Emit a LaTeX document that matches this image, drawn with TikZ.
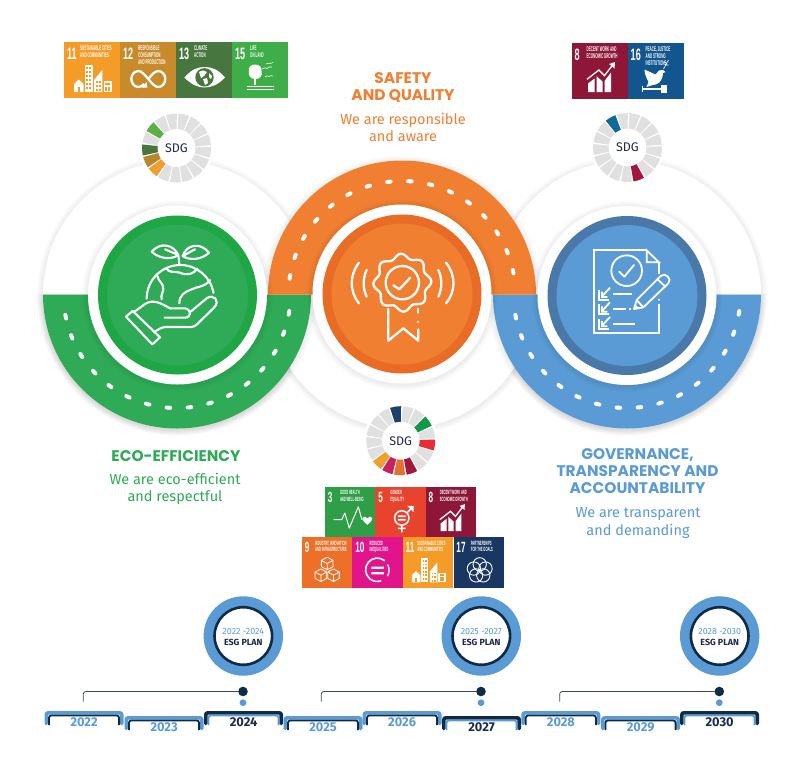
\documentclass[tikz,border=0pt]{standalone}
\usepackage{fontspec}
\setmainfont{Fira Sans}
\newfontfamily\headf{Poppins}
\newfontfamily\tilef[FakeStretch=0.55]{Liberation Sans}
\newfontfamily\tileg[FakeStretch=0.44]{Liberation Sans}
\definecolor{gband}{HTML}{2FAB57}\definecolor{gring}{HTML}{1FA645}
\definecolor{oband}{HTML}{F07F32}\definecolor{oring}{HTML}{E96C26}
\definecolor{bband}{HTML}{5A9BD5}\definecolor{bring}{HTML}{4A78A8}
\definecolor{navy}{HTML}{0F2C46}\definecolor{ink}{HTML}{1E2A4A}
\definecolor{segray}{HTML}{E0E0E0}
\definecolor{sA}{HTML}{F59B27}\definecolor{sB}{HTML}{C98A2B}\definecolor{sC}{HTML}{47773F}
\definecolor{sD}{HTML}{3FAE49}\definecolor{sE}{HTML}{8E1738}\definecolor{sF}{HTML}{13568F}
\definecolor{sG}{HTML}{2E9E47}\definecolor{sH}{HTML}{E8432D}\definecolor{sI}{HTML}{EE7028}
\definecolor{sJ}{HTML}{E1148B}\definecolor{sK}{HTML}{1A3764}
\definecolor{rA}{HTML}{5BB046}\definecolor{rB}{HTML}{48773E}\definecolor{rC}{HTML}{B8862F}
\definecolor{rD}{HTML}{F09F2E}\definecolor{rE}{HTML}{1D3F6B}\definecolor{rF}{HTML}{109A45}
\definecolor{rG}{HTML}{E92C34}\definecolor{rH}{HTML}{A3173F}\definecolor{rI}{HTML}{E96F2E}
\definecolor{rJ}{HTML}{C9215F}\definecolor{rK}{HTML}{0F6A9C}
\tikzset{
 tilebox/.style={anchor=north west,inner sep=0pt,outer sep=0pt},
 tilenum/.style={anchor=west,inner sep=0pt,text=white,font=\tilef\bfseries\fontsize{16.5}{16.5}\selectfont},
 tiletxt/.style={anchor=north west,inner sep=0pt,text=white,align=left,font=\tileg\bfseries\fontsize{6.8}{6.8}\selectfont},
 ic/.style={draw=white,line width=1.1pt,line cap=round,line join=round},
 bigic/.style={draw=white,line width=2.1pt,line cap=round,line join=round},
 roaddash/.style={draw=white,line width=4pt,line cap=round},
 headtxt/.style={align=center,inner sep=0pt,font=\headf\bfseries\fontsize{15.4}{17}\selectfont},
 subtxt/.style={align=center,inner sep=0pt,font=\fontsize{14.5}{17.5}\selectfont},
 disc/.style={circle,inner sep=0pt,outer sep=0pt,minimum size=#1},
 yeartxt/.style={inner sep=0pt,font=\bfseries\fontsize{12.8}{12.8}\selectfont},
 dotnode/.style={circle,inner sep=0pt,outer sep=0pt,minimum size=#1},
 bracket/.style={draw=navy!85!white,line width=0.8pt,rounded corners=2.5pt},
}
% soft shadow around a circle
\newcommand{\softshadow}[3]{\foreach \i in {1,...,6}{\fill[black,opacity=0.011] (#1,#2+1) circle[radius=#3+\i];}}
% SDG ring
\newcommand{\seg}[2]{%
 \pgfmathsetmacro\tA{-77.5+(#1-1)*21.176-9.2}\pgfmathsetmacro\tB{\tA+18.4}%
 \fill[#2] (\tA:34.5) arc[start angle=\tA,end angle=\tB,radius=34.5] -- (\tB:19) arc[start angle=\tB,end angle=\tA,radius=19] -- cycle;}
\newcommand{\sdgring}[4]{%
 \fill[white] (#2,#3) circle[radius=37];
 \begin{scope}[shift={(#2,#3)}]
 \foreach \n in {1,...,17}{\seg{\n}{segray}}
 \foreach \n/\c in {#4}{\seg{\n}{\c}}
 \end{scope}
 \node[inner sep=0pt,text=ink,font=\fontsize{12.5}{12.5}\selectfont] (#1) at (#2,#3) {SDG};}
% tile: name,x,y,scale,colour,number,title x,title,icon
\newcommand{\sdgtile}[9]{%
 \node[tilebox,fill=#5,minimum width={56pt*#4},minimum height={56pt*#4}] (#1) at (#2,#3) {};
 \begin{scope}[shift={(#2,#3)},scale=#4]
 \node[tilenum,scale=#4] (#1n) at (3,11.5) {#6};
 \node[tiletxt,scale=#4] (#1t) at (#7,3.8) {#8};
 #9
 \end{scope}}
% icons in 56-unit tile coordinates
\newcommand{\icCity}[1]{%
 \fill[white] (10,50)--(10,42)--(14.7,37.5)--(19.5,42)--(19.5,50)--cycle;
 \fill[#1] (13.5,50) rectangle (16,45);
 \fill[white] (20.5,50) rectangle (28.5,23);
 \foreach \yy in {25,29,...,45}{\fill[#1] (22,\yy) rectangle (24,\yy+2);\fill[#1] (25,\yy) rectangle (27,\yy+2);}
 \fill[white] (30,50)--(30,38)--(38.3,28)--(38.3,50)--cycle;
 \foreach \yy in {39,43,47}{\fill[#1] (32,\yy) rectangle (34,\yy+2);\fill[#1] (35,\yy) rectangle (37,\yy+2);}
 \fill[white] (39.5,50) rectangle (47.7,39);
 \fill[#1] (41,41) rectangle (46.2,43);\fill[#1] (41,44.5) rectangle (43.2,48.5);\fill[#1] (44,44.5) rectangle (46.2,48.5);}
\newcommand{\icInf}{%
 \begin{scope}[shift={(28.3,37)}]
 \draw[white,line width=2.3pt] (0,0) .. controls (4,-5) and (7,-8) .. (10,-8) .. controls (14,-8) and (17,-4) .. (17,0) .. controls (17,4) and (14,8) .. (10,8) .. controls (7,8) and (4,5) .. (0,0) .. controls (-4,-5) and (-7,-8) .. (-10,-8) .. controls (-14,-8) and (-17,-4) .. (-17,0) .. controls (-17,4) and (-14,8) .. (-10,8) .. controls (-8,8) and (-6,7) .. (-4,5);
 \fill[white] (-1,8.5)--(-6.5,8.5)--(-1.5,3)--cycle;
 \end{scope}}
\newcommand{\icEye}{%
 \fill[white] (8.3,35.5) .. controls (16,27) and (22,25) .. (28.5,25) .. controls (35,25) and (42,27) .. (49,35.5) .. controls (42,43) and (35,45.5) .. (28.5,45.5) .. controls (22,45.5) and (16,43) .. (8.3,35.5) -- cycle;
 \fill[sC] (28.5,35.3) circle[radius=9.2];
 \fill[white] (23,30) .. controls (26,28) and (29,28) .. (31,30) -- (28,34) -- (25,36) -- cycle;
 \fill[white] (27,37) -- (31,36) -- (32,41) -- (29,43) -- cycle;
 \fill[white] (33,31) -- (36,34) -- (35,37) -- (33,35) -- cycle;}
\newcommand{\icTree}{%
 \fill[white] (23,22.5) .. controls (28,22.5) and (30,26) .. (29.5,29) .. controls (31,33) and (28,37) .. (24,37) .. controls (19,37.5) and (15.5,33) .. (17,29) .. controls (16,25) and (19,22.5) .. (23,22.5) -- cycle;
 \fill[white] (22.3,36) rectangle (23.8,43);
 \draw[white,line width=1pt] (14.7,44.3)--(42,44.3) (14.7,47.3)--(42,47.3);
 \draw[white,line width=.6pt] (30,27) .. controls (32,25.5) and (34,25.5) .. (35,26.5) .. controls (36,25) and (38,24.5) .. (40,25);
 \draw[white,line width=.6pt] (33,35) .. controls (34,33.5) and (36,33.5) .. (37,34.5) .. controls (38,33.5) and (40,33.5) .. (41,34);
 \draw[white,line width=.6pt] (34,22) .. controls (35,21) and (37,21) .. (38,21.5) .. controls (39,20.5) and (40,20.5) .. (41,20.5);}
\newcommand{\icGrowth}{%
 \fill[white] (16.5,49)--(16.5,40.5)--(23,35.5)--(23,49)--cycle;
 \fill[white] (25,49)--(25,33)--(31,38.5)--(31,49)--cycle;
 \fill[white] (33,49)--(33,38)--(39.5,29.5)--(39.5,49)--cycle;
 \draw[white,line width=1.3pt,line join=miter] (15.5,36.3)--(27.4,27)--(33,32.6)--(40.7,22.5);
 \fill[white] (43.5,19)--(43,25.5)--(37.5,21)--cycle;}
\newcommand{\icDove}{%
 \fill[white] (17,26.5) -- (28,31.5) -- (31.5,27.5) -- (35.5,27) -- (38,29) -- (35.5,30) .. controls (35,39) and (30,42) .. (25,42) -- (19,44) -- (21,39) .. controls (19,35) and (17,31) .. (17,26.5) -- cycle;
 \draw[white,line width=.6pt] (36,26) -- (41,17) (38,22)--(41,22) (39,20)--(36.5,19);
 \draw[white,line width=1.3pt] (14.5,46)--(33,46);
 \draw[white,line width=1pt] (14.5,43)--(14.5,49);
 \fill[white] (33,42) rectangle (39,50);}
\newcommand{\icHealth}{%
 \draw[white,line width=1pt,line join=round,line cap=round] (10,36.3)--(18.5,36.3)--(22,29)--(27,45.6)--(37,22)--(41,36.3);
 \fill[white] (47,42) .. controls (43,38.5) and (41,36.5) .. (41.5,34.5) .. controls (42.5,32) and (46,32.5) .. (47,35) .. controls (48,32.5) and (51.5,32) .. (52.5,34.5) .. controls (53,36.5) and (51,38.5) .. (47,42) -- cycle;}
\newcommand{\icGender}{%
 \draw[white,line width=1.5pt] (29.3,34.4) circle[radius=8];
 \draw[white,line width=1.5pt] (35,28.8)--(41.5,22.2) (29.3,42.4)--(29.3,50.5) (25,46)--(33.5,46);
 \fill[white] (35.5,21)--(42.5,21)--(42.5,28)--cycle;
 \fill[white] (25,31.5) rectangle (33.6,33.4) (25,35.5) rectangle (33.6,37.4);}
\newcommand{\isocube}[2]{%
 \begin{scope}[shift={(#1,#2)}]
 \draw[ic,line width=.8pt] (0,-7)--(6.5,-3.5)--(6.5,3.5)--(0,7)--(-6.5,3.5)--(-6.5,-3.5)--cycle (-6.5,-3.5)--(0,0)--(6.5,-3.5) (0,0)--(0,7);
 \end{scope}}
\newcommand{\icCubes}{\isocube{28}{29}\isocube{21}{42}\isocube{35}{42}}
\newcommand{\icEq}{%
 \draw[white,line width=1.6pt] (36,26) arc[start angle=-50,end angle=-290,radius=13];
 \draw[white,line width=1.3pt] (39,30) arc[start angle=-30,end angle=30,radius=13];
 \fill[white] (21,32.5) rectangle (35,35) (21,38.5) rectangle (35,41);}
\newcommand{\icRings}{%
 \foreach \an in {-90,-18,54,126,198}{\draw[white,line width=.9pt] ([shift={(29,36.7)}]\an:6.8) circle[radius=7.4];}}
% big-disc
\newcommand{\bigdisc}[2]{\softshadow{#1}{#2}{134}\fill[white] (#1,#2) circle[radius=134];}
% year tab: name,x0,y0,outer,inner,label,labelcolor
\newcommand{\yeartab}[7]{%
 \pgfmathsetmacro\xa{#2}\pgfmathsetmacro\xb{#2+79}\pgfmathsetmacro\ya{#3}\pgfmathsetmacro\yb{#3+14}%
 \draw[#4,line width=3.6pt,line cap=round,rounded corners=2pt] (\xa+1.8,\yb-1.5)--(\xa+1.8,\ya+1.8)--(\xb-1.8,\ya+1.8)--(\xb-1.8,\yb-1.5);
 \draw[#5,line width=1.8pt,rounded corners=2.5pt] (\xa+4.4,\yb)--(\xa+4.4,\ya+4.4)--(\xb-4.4,\ya+4.4)--(\xb-4.4,\yb);
 \node[yeartxt,text=#7] (#1) at (\xa+39.6,\ya+11) {#6};}
% plan circle: name,x,label
\newcommand{\plan}[3]{%
 \node[disc=79.4pt,fill=bband] (#1o) at (#2,636) {};
 \node[disc=57.6pt,fill=white,draw=navy,line width=2.6pt] (#1w) at (#2,636) {};
 \node[inner sep=0pt,align=center,font=\fontsize{8.9}{10.6}\selectfont] (#1) at (#2,637.2) {\textcolor{bband}{#3}\\\textcolor{ink}{\bfseries ESG PLAN}};}
\begin{document}
\begin{tikzpicture}[x=1pt,y=1pt,yscale=-1]
\useasboundingbox (0,0) rectangle (804,780);
\fill[white] (0,0) rectangle (804,780);
% big white discs
\bigdisc{177}{294.5}
\bigdisc{627}{294.5}
\bigdisc{402}{294.5}
% left and right lower bands
\begin{scope}\clip (30,294.5) rectangle (775,445);
 \softshadow{177}{294.5}{134}\softshadow{627}{294.5}{134}
\end{scope}
\fill[gband] (43,294.5) arc[start angle=180,end angle=0,radius=134] -- cycle;
\fill[bband] (493,294.5) arc[start angle=180,end angle=0,radius=134] -- cycle;
\fill[oband] (268,294.5) arc[start angle=180,end angle=360,radius=134] -- cycle;
% road dashes
\foreach \k in {0,...,15}{
 \pgfmathsetmacro\aa{9.3+10.63*\k}
 \pgfmathsetmacro\ab{\aa-0.9}\pgfmathsetmacro\ac{\aa+0.9}
 \begin{scope}[shift={(177,294.5)}]\draw[roaddash] (\ab:113.5) arc[start angle=\ab,end angle=\ac,radius=113.5];\end{scope}
 \begin{scope}[shift={(627,294.5)}]\draw[roaddash] (\ab:113.5) arc[start angle=\ab,end angle=\ac,radius=113.5];\end{scope}
 \pgfmathsetmacro\ad{-11.6-10.63*\k-0.9}\pgfmathsetmacro\ae{\ad+1.8}
 \begin{scope}[shift={(402,294.5)}]\draw[roaddash] (\ad:113.5) arc[start angle=\ad,end angle=\ae,radius=113.5];\end{scope}
}
% inner discs
\softshadow{177.5}{295}{89.5}\softshadow{627}{295.5}{89.5}\softshadow{402}{294}{89.5}
\node[disc=179pt,fill=white] (gw) at (177.5,295) {};
\node[disc=159pt,fill=gring] (gr) at (177.5,295) {};
\node[disc=141pt,fill=gband] (gc) at (177.5,295) {};
\node[disc=179pt,fill=white] (ow) at (402,294) {};
\node[disc=159pt,fill=oring] (or) at (402,294) {};
\node[disc=141pt,fill=oband] (oc) at (402,294) {};
\node[disc=179pt,fill=white] (bw) at (627,295.5) {};
\node[disc=159pt,fill=bring] (br) at (627,295.5) {};
\node[disc=141pt,fill=bband] (bc) at (627,295.5) {};
% globe icon
\begin{scope}[shift={(90,200)},scale=1/3]
 \draw[bigic] (265,165) .. controls (250,133) and (212,125) .. (185,155) .. controls (208,177) and (245,180) .. (265,165) -- (225,148);
 \draw[bigic] (278,168) .. controls (290,133) and (330,125) .. (357,158) .. controls (335,180) and (298,182) .. (278,168) -- (315,148);
 \draw[bigic] (265,165) -- (268,193);
 \draw[bigic] (170,296) arc[start angle=180,end angle=350,radius=101];
 \draw[bigic] (228,204) .. controls (238,222) and (255,212) .. (270,218) .. controls (290,228) and (312,222) .. (322,206);
 \draw[bigic] (202,228) .. controls (205,245) and (222,250) .. (220,268) .. controls (218,280) and (212,285) .. (215,298);
 \draw[bigic] (360,240) .. controls (345,262) and (325,258) .. (305,268) .. controls (285,275) and (268,285) .. (268,310);
 \draw[bigic] (108,350) -- (128,333) -- (210,412) -- (187,433) -- cycle;
 \draw[bigic] (132,336) -- (165,312) .. controls (190,297) and (210,308) .. (240,325) -- (285,325) .. controls (305,328) and (305,353) .. (285,353) -- (224,353);
 \draw[bigic] (302,335) -- (350,295) .. controls (370,280) and (392,302) .. (373,322) -- (322,372) .. controls (310,384) and (300,381) .. (285,381) -- (228,381) .. controls (215,381) and (205,388) .. (192,397);
\end{scope}
% medal icon
\begin{scope}[shift={(310,210)},scale=1/3]
 \draw[bigic,line width=2.3pt,smooth cycle] plot[domain=0:356,samples=90] ({277+(80+7*cos(8*\x+22))*cos(\x)},{218+(80+7*cos(8*\x+22))*sin(\x)});
 \draw[bigic,line width=2.3pt] (277,218) circle[radius=50];
 \draw[bigic,line width=2.3pt] (250,226) -- (268,238) -- (301,203);
 \draw[bigic,line width=2.3pt] (235,297) -- (235,392) -- (280,355) -- (325,392) -- (325,358);
 \draw[bigic,line width=2.3pt] (325,335) -- (325,336) (325,308) -- (325,296);
 \draw[bigic,line width=2.3pt] (170,180) .. controls (158,205) and (158,235) .. (170,260);
 \draw[bigic,line width=2.3pt] (147,158) .. controls (118,195) and (118,245) .. (147,280);
 \draw[bigic,line width=2.3pt] (385,180) .. controls (397,205) and (397,235) .. (385,260);
 \draw[bigic,line width=2.3pt] (408,158) .. controls (438,195) and (438,245) .. (408,280);
\end{scope}
% document icon
\begin{scope}[shift={(540,205)},scale=1/3,bigic/.append style={line width=1.8pt}]
 \draw[bigic,line cap=butt,line join=miter] (320,136) -- (162,136) -- (162,385) -- (357,385) -- (357,297);
 \draw[bigic,line join=miter] (357,284) -- (357,285);
 \draw[bigic,line join=miter] (320,136) -- (357,172) -- (320,172) -- cycle;
 \draw[bigic] (357,172) -- (357,205);
 \draw[bigic] (260,197) circle[radius=46];
 \draw[bigic] (238,200) -- (253,215) -- (282,180);
 \foreach \yy in {268,312,356}{
  \draw[bigic,line cap=butt,line join=miter] (178,\yy-14) -- (178,\yy+16) -- (208,\yy+16);
  \draw[bigic,line cap=butt,line join=miter] (210,\yy-20) -- (186,\yy+6) (186,\yy-8) -- (186,\yy+8) -- (202,\yy+8);
 }
 \draw[bigic,line cap=butt] (220,268) -- (275,268) (220,312) -- (258,312) (268,312) -- (273,312) (220,356) -- (285,356);
 \draw[bigic] (282,312) -- (290,285) -- (362,213) .. controls (375,200) and (398,222) .. (385,235) -- (310,307) -- cycle;
 \draw[bigic] (290,285) -- (310,307) (352,222) -- (376,245);
 \fill[white] (282,314) -- (286,298) -- (298,310) -- cycle;
\end{scope}
% headings
\node[headtxt,text=oband] (h1) at (403,87) {SAFETY\\AND QUALITY};
\node[subtxt,text=oband] (s1) at (403,127.5) {We are responsible\\and aware};
\node[headtxt,text=gband] (h2) at (176,456.5) {ECO-EFFICIENCY};
\node[subtxt,text=gband] (s2) at (175,489) {We are eco-efficient\\and respectful};
\node[headtxt,text=bband] (h3) at (637.5,471) {GOVERNANCE,\\TRANSPARENCY AND\\ACCOUNTABILITY};
\node[subtxt,text=bband] (s3) at (638,523) {We are transparent\\and demanding};
% SDG rings
\sdgring{ringL}{176.5}{148}{15/rA,13/rB,12/rC,11/rD}
\sdgring{ringC}{400.7}{440.7}{17/rE,3/rF,5/rG,8/rH,9/rI,10/rJ,11/rD}
\sdgring{ringR}{627.5}{147.5}{16/rK,8/rH}
% tiles, left row
\sdgtile{t11}{64}{42}{1}{sA}{11}{16}{SUSTAINABLE CITIES\\AND COMMUNITIES}{\icCity{sA}}
\sdgtile{t12}{120}{42}{1}{sB}{12}{18}{RESPONSIBLE\\CONSUMPTION\\AND PRODUCTION}{\icInf}
\sdgtile{t13}{176}{42}{1}{sC}{13}{18}{CLIMATE\\ACTION}{\icEye}
\sdgtile{t15}{232}{42}{1}{sD}{15}{18}{LIFE\\ON LAND}{\icTree}
% tiles, right row
\sdgtile{t8a}{571.5}{43}{1}{sE}{8}{15}{DECENT WORK AND\\ECONOMIC GROWTH}{\icGrowth}
\sdgtile{t16}{627.5}{43}{1}{sF}{16}{18}{PEACE, JUSTICE\\AND STRONG\\INSTITUTIONS}{\icDove}
% tiles, centre
\sdgtile{t3}{325}{487}{0.9}{sG}{3}{16.5}{GOOD HEALTH\\AND WELL-BEING}{\icHealth}
\sdgtile{t5}{375.4}{487}{0.9}{sH}{5}{16.5}{GENDER\\EQUALITY}{\icGender}
\sdgtile{t8b}{425.8}{487}{0.9}{sE}{8}{15.5}{DECENT WORK AND\\ECONOMIC GROWTH}{\icGrowth}
\sdgtile{t9}{302}{537.4}{0.9}{sI}{9}{14.5}{INDUSTRY, INNOVATION\\AND INFRASTRUCTURE}{\icCubes}
\sdgtile{t10}{352.4}{537.4}{0.9}{sJ}{10}{19}{REDUCED\\INEQUALITIES}{\icEq}
\sdgtile{t11b}{402.8}{537.4}{0.9}{sA}{11}{16}{SUSTAINABLE CITIES\\AND COMMUNITIES}{\icCity{sA}}
\sdgtile{t17}{453.6}{537.4}{0.9}{sK}{17}{19}{PARTNERSHIPS\\FOR THE GOALS}{\icRings}
% ESG plan circles
\plan{p1}{243.3}{2022 -2024}
\plan{p2}{481.3}{2025 -2027}
\plan{p3}{719.7}{2028 -2030}
% brackets and dots
\node[dotnode=9.6pt,fill=navy] (d1) at (243,691.5) {};
\node[dotnode=9.6pt,fill=navy] (d2) at (481,691.5) {};
\node[dotnode=9.6pt,fill=navy] (d3) at (719.3,691.5) {};
\node[dotnode=6.8pt,fill=bband] (e1) at (243,702.7) {};
\node[dotnode=6.8pt,fill=bband] (e2) at (481,702.7) {};
\node[dotnode=6.8pt,fill=bband] (e3) at (719.3,702.7) {};
\coordinate (b1) at (83.3,701.7);
\coordinate (b2) at (321.3,701.7);
\coordinate (b3) at (559.7,701.7);
\draw[bracket] (b1) |- (d1);
\draw[bracket] (b2) |- (d2);
\draw[bracket] (b3) |- (d3);
% year tabs
\yeartab{y22}{44.5}{711}{bband}{navy}{2022}{bband}
\yeartab{y23}{124.5}{716}{bband}{navy}{2023}{bband}
\yeartab{y24}{204}{711}{navy}{bband}{2024}{ink}
\yeartab{y25}{283.5}{716}{bband}{navy}{2025}{bband}
\yeartab{y26}{362.5}{711}{bband}{navy}{2026}{bband}
\yeartab{y27}{442}{716}{navy}{bband}{2027}{ink}
\yeartab{y28}{521.3}{711}{bband}{navy}{2028}{bband}
\yeartab{y29}{601}{716}{bband}{navy}{2029}{bband}
\yeartab{y30}{680}{711}{navy}{bband}{2030}{ink}
\end{tikzpicture}
\end{document}
